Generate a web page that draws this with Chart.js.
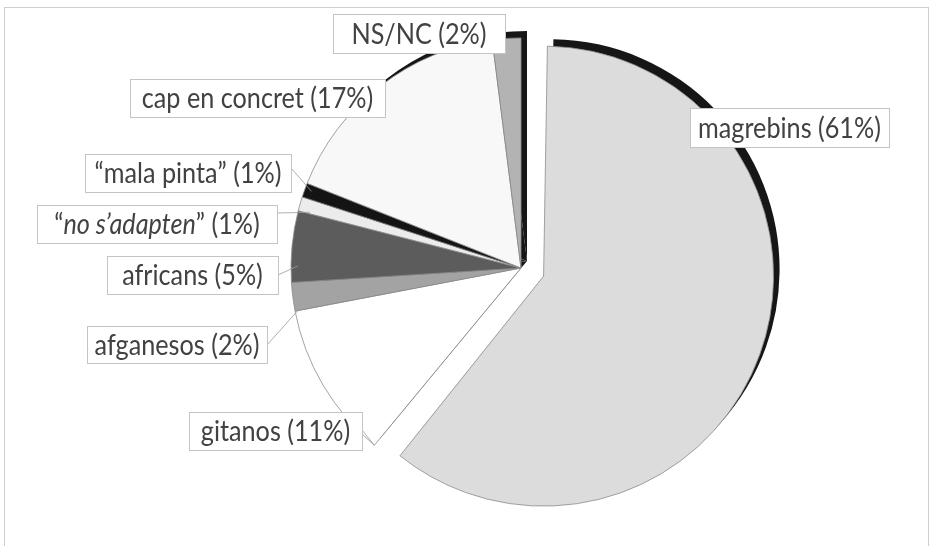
<!DOCTYPE html>
<html><head><meta charset="utf-8">
<script src="https://cdn.jsdelivr.net/npm/chart.js@4.4.0/dist/chart.umd.min.js"></script>
<style>html,body{margin:0;padding:0;background:#fff}#wrap{position:relative;width:931px;height:546px}</style>
</head><body><div id="wrap"><canvas id="c" width="931" height="546"></canvas></div>
<script>
// ---- data ----
const categories = ['magrebins', 'gitanos', 'afganesos', 'africans', 'no s\u2019adapten', 'mala pinta', 'cap en concret', 'NS/NC'];
const values = [61, 11, 2, 5, 1, 1, 17, 2];
const quoted = [false, false, false, false, true, true, false, false];
const italic = [false, false, false, false, true, false, false, false];

// ---- styles / layout ----
const colors = ['#dcdcdc', '#ffffff', '#a3a3a3', '#5c5c5c', '#ececec', '#141414', '#f8f8f8', '#b3b3b3'];
const offsets = [96, 0, 0, 0, 0, 0, 0, 0];
// label boxes [x1,y1,x2,y2]
const boxes = [
  [690,108,889,147],[189,412,362,450],[87,326,267,363],[107,256,278,294],
  [37,205,277,243],[85,154,291,192],[130,79,385,117],[333,14,505,53]
];
// leader line: [box edge x, box edge y, fraction along slice angle, fraction of radius] or null
const leaders = [null,[362,430,0,1],[267,345,0.05,0.98],[278,275,0.23,0.97],[277,213,0.1,0.95],[291,168,0.58,0.97],null,null];

const FONT = '"Lato", "Open Sans", sans-serif';
const FONT_SIZE = 28;
const TEXT_SCALE_X = 0.9;

// keep exploded slice at the same radius as the others
const explodeFix = {
  id: 'explodeFix',
  afterDatasetsUpdate(chart) {
    const meta = chart.getDatasetMeta(0);
    meta.data.forEach(arc => {
      const off = (arc.options.offset || 0) / 4;
      if (off) {
        const fix = 1 - Math.sin(Math.min(Math.PI, arc.circumference || 0));
        arc.outerRadius -= off * fix;
      }
    });
  }
};

const shadowPlugin = {
  id: 'shadow3d',
  beforeDatasetsDraw(chart) {
    const ctx = chart.ctx;
    const meta = chart.getDatasetMeta(0);
    ctx.save();
    ctx.translate(6, -7);
    meta.data.forEach(arc => {
      const proxy = Object.create(arc);
      proxy.options = Object.assign({}, arc.options, {backgroundColor: '#161616', borderColor: '#161616', borderWidth: 0});
      arc.draw.call(proxy, ctx);
    });
    ctx.restore();
  }
};

const labelPlugin = {
  id: 'boxLabels',
  afterDatasetsDraw(chart) {
    const ctx = chart.ctx;
    const meta = chart.getDatasetMeta(0);
    // leaders
    ctx.save();
    ctx.strokeStyle = '#9a9a9a';
    ctx.lineWidth = 0.8;
    meta.data.forEach((arc, i) => {
      const L = leaders[i];
      if (!L) return;
      const a = arc.startAngle + L[2] * (arc.endAngle - arc.startAngle);
      const r = arc.outerRadius * L[3];
      ctx.beginPath();
      ctx.moveTo(L[0], L[1]);
      ctx.lineTo(arc.x + Math.cos(a) * r, arc.y + Math.sin(a) * r);
      ctx.stroke();
    });
    ctx.restore();
    // boxes
    categories.forEach((name, i) => {
      const b = boxes[i];
      ctx.save();
      ctx.fillStyle = '#ffffff';
      ctx.fillRect(b[0], b[1], b[2] - b[0], b[3] - b[1]);
      ctx.strokeStyle = '#c4c4c4';
      ctx.lineWidth = 1;
      ctx.strokeRect(b[0] + 0.5, b[1] + 0.5, b[2] - b[0], b[3] - b[1]);
      const parts = [];
      if (quoted[i]) parts.push({t: '\u201C', it: false});
      parts.push({t: name, it: italic[i]});
      parts.push({t: (quoted[i] ? '\u201D' : '') + ' (' + values[i] + '%)', it: false});
      let total = 0;
      parts.forEach(p => { ctx.font = (p.it ? 'italic ' : '') + FONT_SIZE + 'px ' + FONT; p.w = ctx.measureText(p.t).width; total += p.w; });
      const cx = (b[0] + b[2]) / 2;
      const y = (b[1] + b[3]) / 2 + 1;
      ctx.translate(cx, y);
      ctx.scale(TEXT_SCALE_X, 1);
      let x = -total / 2;
      ctx.fillStyle = '#424242';
      ctx.textBaseline = 'middle';
      ctx.textAlign = 'left';
      parts.forEach(p => { ctx.font = (p.it ? 'italic ' : '') + FONT_SIZE + 'px ' + FONT; ctx.fillText(p.t, x, 0); x += p.w; });
      ctx.restore();
    });
  }
};

const framePlugin = {
  id: 'frame',
  beforeDraw(chart) {
    const ctx = chart.ctx;
    ctx.save();
    ctx.fillStyle = '#fff';
    ctx.fillRect(0, 0, chart.width, chart.height);
    ctx.strokeStyle = '#cfcfcf';
    ctx.lineWidth = 1;
    ctx.strokeRect(4.5, 7.5, 924, 560);
    ctx.restore();
  }
};

new Chart(document.getElementById('c'), {
  type: 'pie',
  data: {
    labels: categories,
    datasets: [{
      data: values,
      backgroundColor: colors,
      borderColor: '#8c8c8c',
      borderWidth: 0.8,
      offset: offsets
    }]
  },
  options: {
    responsive: false,
    animation: false,
    events: [],
    radius: 230,
    layout: {padding: {left: 111, right: 0, top: 0, bottom: 10}},
    plugins: {legend: {display: false}, tooltip: {enabled: false}}
  },
  plugins: [explodeFix, framePlugin, shadowPlugin, labelPlugin]
});
</script></body></html>
